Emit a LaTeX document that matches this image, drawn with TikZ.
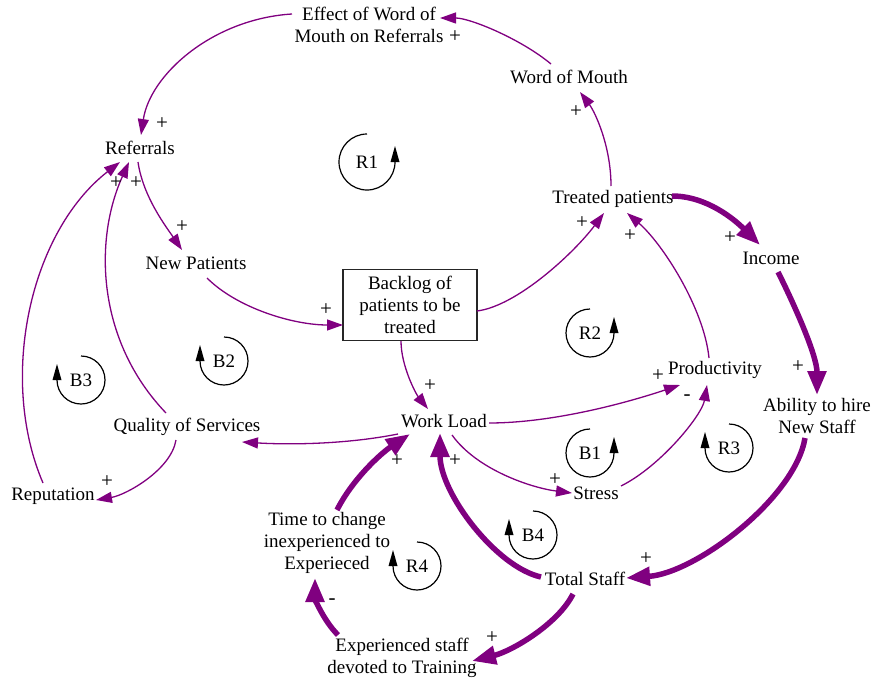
\documentclass[tikz,border=0pt]{standalone}
\usepackage{fontspec}
\setmainfont{Liberation Serif}
\usetikzlibrary{arrows.meta}
\definecolor{cldpurple}{HTML}{800080}
\tikzset{
  var/.style={inner sep=0pt, align=center, font=\fontsize{19}{22}\selectfont},
  stockbox/.style={draw=black!85, line width=1.3pt, minimum width=134pt, minimum height=71pt, inner sep=0pt, align=center, font=\fontsize{19}{22}\selectfont},
  pol/.style={inner sep=0pt, font=\fontsize{21}{22}\selectfont},
  thinlink/.style={draw=cldpurple, line width=1.3pt, -{Triangle[length=16pt,width=11pt]}},
  thicklink/.style={draw=cldpurple, line width=5.5pt, -{Triangle[length=24pt,width=18pt]}},
  loopline/.style={draw=black, line width=1.2pt},
  looplabel/.style={inner sep=0pt, font=\fontsize{19}{22}\selectfont},
}
\newcommand{\ccwloop}[4]{% name, center, radius, label
  \node[looplabel] (#1) at #2 {#4};
  \begin{scope}[shift={#2}]
    \draw[loopline] (0,-#3) arc[start angle=270, end angle=0, radius=#3];
    \fill (#3-4.5,0) -- (#3+4.5,0) -- (#3,-16) -- cycle;
  \end{scope}}
\newcommand{\cwloop}[4]{% name, center, radius, label
  \node[looplabel] (#1) at #2 {#4};
  \begin{scope}[shift={#2}]
    \draw[loopline] (0,-#3) arc[start angle=-90, end angle=180, radius=#3];
    \fill (-#3-4.5,0) -- (-#3+4.5,0) -- (-#3,-16) -- cycle;
  \end{scope}}
\begin{document}
\begin{tikzpicture}[x=1pt,y=-1pt]
\useasboundingbox (0,0) rectangle (874,682);

% variables
\node[var] (eff) at (369,25) {Effect of Word of\\Mouth on Referrals};
\node[var] (wom) at (569,77) {Word of Mouth};
\node[var] (ref) at (140,148) {Referrals};
\node[var] (np) at (196,263) {New Patients};
\node[stockbox] (bl) at (410,305) {Backlog of\\patients to be\\treated};
\node[var] (wl) at (444,421) {Work Load};
\node[var] (qos) at (187,427) {Quality of Services};
\node[var] (rep) at (53,496) {Reputation};
\node[var] (tp) at (613,199) {Treated patients};
\node[var] (inc) at (771,258) {Income};
\node[var] (prod) at (715,370) {Productivity};
\node[var] (abil) at (817,416) {Ability to hire\\New Staff};
\node[var] (str) at (596,493) {Stress};
\node[var] (ts) at (585,579) {Total Staff};
\node[var] (tc) at (327,543) {Time to change\\inexperienced to\\Experieced};
\node[var] (es) at (402,658) {Experienced staff\\devoted to Training};

% thin links
\draw[thinlink] ([shift={(-77,-11)}]eff.center) .. controls +(-80,5) and +(9,-60) .. ([shift={(1,-13)}]ref.center);
\draw[thinlink] ([shift={(-18,-13)}]wom.center) .. controls +(-30,-25) and +(30,0) .. ([shift={(71,-7)}]eff.center);
\draw[thinlink] ([shift={(-2,-13)}]tp.center) .. controls +(0,-40) and +(15,20) .. ([shift={(11,15)}]wom.center);
\draw[thinlink] ([shift={(-2,14)}]ref.center) .. controls +(5,35) and +(-15,-22) .. ([shift={(-14,-13)}]np.center);
\draw[thinlink] ([shift={(11,15)}]np.center) .. controls +(30,30) and +(-50,0) .. ([shift={(-67,20)}]bl.center);
\draw[thinlink] ([shift={(-9,36)}]bl.center) .. controls +(0,25) and +(-12,-15) .. ([shift={(-16,-12)}]wl.center);
\draw[thinlink] ([shift={(67,6)}]bl.center) .. controls +(40,-5) and +(-30,40) .. ([shift={(-9,14)}]tp.center);
\draw[thinlink] ([shift={(-6,-12)}]prod.center) .. controls +(-5,-50) and +(35,30) .. ([shift={(14,14)}]tp.center);
\draw[thinlink] ([shift={(45,2)}]wl.center) .. controls +(60,0) and +(-60,20) .. ([shift={(-35,15)}]prod.center);
\draw[thinlink] ([shift={(8,14)}]wl.center) .. controls +(25,35) and +(-40,-5) .. ([shift={(-24,0)}]str.center);
\draw[thinlink] ([shift={(25,-7)}]str.center) .. controls +(40,-20) and +(-5,30) .. ([shift={(-8,15)}]prod.center);
\draw[thinlink] ([shift={(-46,13)}]wl.center) .. controls +(-50,10) and +(50,3) .. ([shift={(55,15)}]qos.center);
\draw[thinlink] ([shift={(-21,-14)}]qos.center) .. controls +(-70,-73) and +(-35,77) .. ([shift={(-11,14)}]ref.center);
\draw[thinlink] ([shift={(-10,-13)}]rep.center) .. controls +(-45,-105) and +(-90,70) .. ([shift={(-20,14)}]ref.center);
\draw[thinlink] ([shift={(-11,13)}]qos.center) .. controls +(-5,30) and +(30,-5) .. ([shift={(43,4)}]rep.center);

% thick links
\draw[thicklink] ([shift={(59,-3)}]tp.center) .. controls +(35,0) and +(-25,-25) .. ([shift={(-11,-13)}]inc.center);
\draw[thicklink] ([shift={(7,14)}]inc.center) .. controls +(15,30) and +(0,-40) .. ([shift={(0,-21)}]abil.center);
\draw[thicklink] ([shift={(-12,22)}]abil.center) .. controls +(-10,60) and +(70,-5) .. ([shift={(41,-1)}]ts.center);
\draw[thicklink] ([shift={(-44,-2)}]ts.center) .. controls +(-45,-10) and +(0,60) .. ([shift={(-4,12)}]wl.center);
\draw[thicklink] ([shift={(-12,15)}]ts.center) .. controls +(-15,30) and +(40,-10) .. ([shift={(70,3)}]es.center);
\draw[thicklink] ([shift={(-64,-23)}]es.center) .. controls +(-15,-15) and +(0,20) .. ([shift={(-12,35)}]tc.center);
\draw[thicklink] ([shift={(10,-33)}]tc.center) .. controls +(15,-30) and +(-30,20) .. ([shift={(-34,13)}]wl.center);

% polarities
\node[pol] (p1) at (162,124) {+};
\node[pol] (p2) at (455,37) {+};
\node[pol] (p3) at (576,112) {+};
\node[pol] (p4) at (182,227) {+};
\node[pol] (p5) at (326,310) {+};
\node[pol] (p6) at (430,386) {+};
\node[pol] (p7) at (582,223) {+};
\node[pol] (p8) at (630,236) {+};
\node[pol] (p9) at (658,376) {+};
\node[pol] (p10) at (555,480) {+};
\node[pol] (p11) at (687,398) {-};
\node[pol] (p12) at (136,183) {+};
\node[pol] (p13) at (116,183) {+};
\node[pol] (p14) at (107,482) {+};
\node[pol] (p15) at (730,238) {+};
\node[pol] (p16) at (798,367) {+};
\node[pol] (p17) at (646,559) {+};
\node[pol] (p18) at (455,461) {+};
\node[pol] (p19) at (492,638) {+};
\node[pol] (p20) at (332,602) {-};
\node[pol] (p21) at (397,461) {+};

% loop identifiers
\ccwloop{r1}{(367,162)}{28}{R1}
\ccwloop{r2}{(590,333)}{24}{R2}
\ccwloop{b1}{(590,453)}{24}{B1}
\cwloop{r3}{(729,448)}{24}{R3}
\cwloop{b2}{(224,361)}{24}{B2}
\cwloop{b3}{(81,380)}{24}{B3}
\cwloop{b4}{(533,535)}{24}{B4}
\cwloop{r4}{(417,566)}{24}{R4}
\end{tikzpicture}
\end{document}
